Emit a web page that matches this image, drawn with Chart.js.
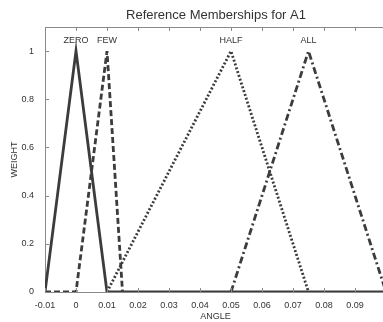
<!DOCTYPE html>
<html>
<head>
<meta charset="utf-8">
<script src="https://cdn.jsdelivr.net/npm/chart.js@4.4.0/dist/chart.umd.min.js"></script>
<style>
  html, body { margin: 0; padding: 0; background: #fff; overflow: hidden; }
  #wrap { width: 390px; height: 322px; }
</style>
</head>
<body>
<div id="wrap"><canvas id="grafica" width="390" height="322"></canvas></div>
<script>
// membership functions (angle, weight)
const zeroX = [-0.01, 0, 0.01, 0.1];
const zeroY = [0, 1, 0, 0];
const fewX = [-0.01, 0, 0.01, 0.015];
const fewY = [0, 0, 1, 0];
const halfX = [0.01, 0.05, 0.075];
const halfY = [0, 1, 0];
const allX = [0.05, 0.075, 0.1];
const allY = [0, 1, 0];

const etiquetas = ['ZERO', 'FEW', 'HALF', 'ALL'];
const picosX = [0, 0.01, 0.05, 0.075];

const xTicks = [-0.01, 0, 0.01, 0.02, 0.03, 0.04, 0.05, 0.06, 0.07, 0.08, 0.09, 0.1];
const yTicks = [0, 0.2, 0.4, 0.6, 0.8, 1];

const gris = '#3c3c3c';
const fuente = '"Liberation Sans", Arial, sans-serif';

function puntos(xs, ys) {
    return xs.map((x, i) => ({ x: x, y: ys[i] }));
}

// MATLAB style ticks pointing inward + peak labels + title
const marcoPlugin = {
    id: 'marco',
    afterDraw(chart) {
        const ctx = chart.ctx;
        const a = chart.chartArea;
        const sx = chart.scales.x;
        const sy = chart.scales.y;
        ctx.save();
        ctx.strokeStyle = '#8a8a8a';
        ctx.lineWidth = 1;
        ctx.beginPath();
        ctx.moveTo(a.left, a.top + 0.5);
        ctx.lineTo(a.right, a.top + 0.5);
        xTicks.forEach(t => {
            const px = Math.round(sx.getPixelForValue(t)) + 0.5;
            ctx.moveTo(px, a.bottom);
            ctx.lineTo(px, a.bottom - 4);
            ctx.moveTo(px, a.top);
            ctx.lineTo(px, a.top + 4);
        });
        yTicks.forEach(t => {
            const py = Math.round(sy.getPixelForValue(t)) + 0.5;
            ctx.moveTo(a.left, py);
            ctx.lineTo(a.left + 4, py);
        });
        ctx.stroke();

        ctx.fillStyle = '#333';
        ctx.font = '9px ' + fuente;
        ctx.textAlign = 'center';
        ctx.textBaseline = 'middle';
        etiquetas.forEach((e, i) => {
            ctx.fillText(e, sx.getPixelForValue(picosX[i]), sy.getPixelForValue(1) - 11);
        });

        ctx.font = '13px ' + fuente;
        ctx.fillText('Reference Memberships for A1', 216, 15);
        ctx.restore();
    }
};

const ctx = document.getElementById('grafica').getContext('2d');

new Chart(ctx, {
    type: 'scatter',
    data: {
        datasets: [
            { label: 'ZERO', data: puntos(zeroX, zeroY), borderDash: [] },
            { label: 'FEW', data: puntos(fewX, fewY), borderDash: [6, 3] },
            { label: 'HALF', data: puntos(halfX, halfY), borderDash: [2, 2] },
            { label: 'ALL', data: puntos(allX, allY), borderDash: [7, 3, 2, 3] }
        ].map(d => Object.assign(d, {
            showLine: true,
            borderColor: gris,
            borderWidth: 2.8,
            pointRadius: 0,
            tension: 0,
            fill: false
        }))
    },
    options: {
        responsive: false,
        animation: false,
        layout: { padding: { top: 27, right: 4, left: 0, bottom: 0 } },
        plugins: {
            legend: { display: false },
            title: { display: false },
            tooltip: { enabled: false }
        },
        scales: {
            x: {
                type: 'linear',
                min: -0.01,
                max: 0.1,
                afterBuildTicks: s => { s.ticks = xTicks.map(v => ({ value: v })); },
                afterFit: s => { s.height = 30; },
                grid: { display: false },
                border: { display: true, color: '#8a8a8a', width: 1 },
                ticks: {
                    color: '#333',
                    padding: 0,
                    maxRotation: 0,
                    autoSkip: false,
                    font: { family: fuente, size: 9 },
                    callback: v => (Math.abs(v) < 1e-9 ? '0' : (v > 0.095 ? '' : v.toFixed(2)))
                },
                title: {
                    display: true,
                    text: 'ANGLE',
                    color: '#333',
                    padding: { top: -3, bottom: 0 },
                    font: { family: fuente, size: 9 }
                }
            },
            y: {
                type: 'linear',
                min: 0,
                max: 1.1,
                afterBuildTicks: s => { s.ticks = yTicks.map(v => ({ value: v })); },
                afterFit: s => { s.width = 45; },
                grid: { display: false },
                border: { display: true, color: '#8a8a8a', width: 1 },
                ticks: {
                    color: '#333',
                    padding: 3,
                    font: { family: fuente, size: 9 },
                    callback: v => String(Math.round(v * 10) / 10)
                },
                title: {
                    display: true,
                    text: 'WEIGHT',
                    color: '#333',
                    padding: { top: 9, bottom: 0 },
                    font: { family: fuente, size: 9 }
                }
            }
        }
    },
    plugins: [marcoPlugin]
});
</script>
</body>
</html>
